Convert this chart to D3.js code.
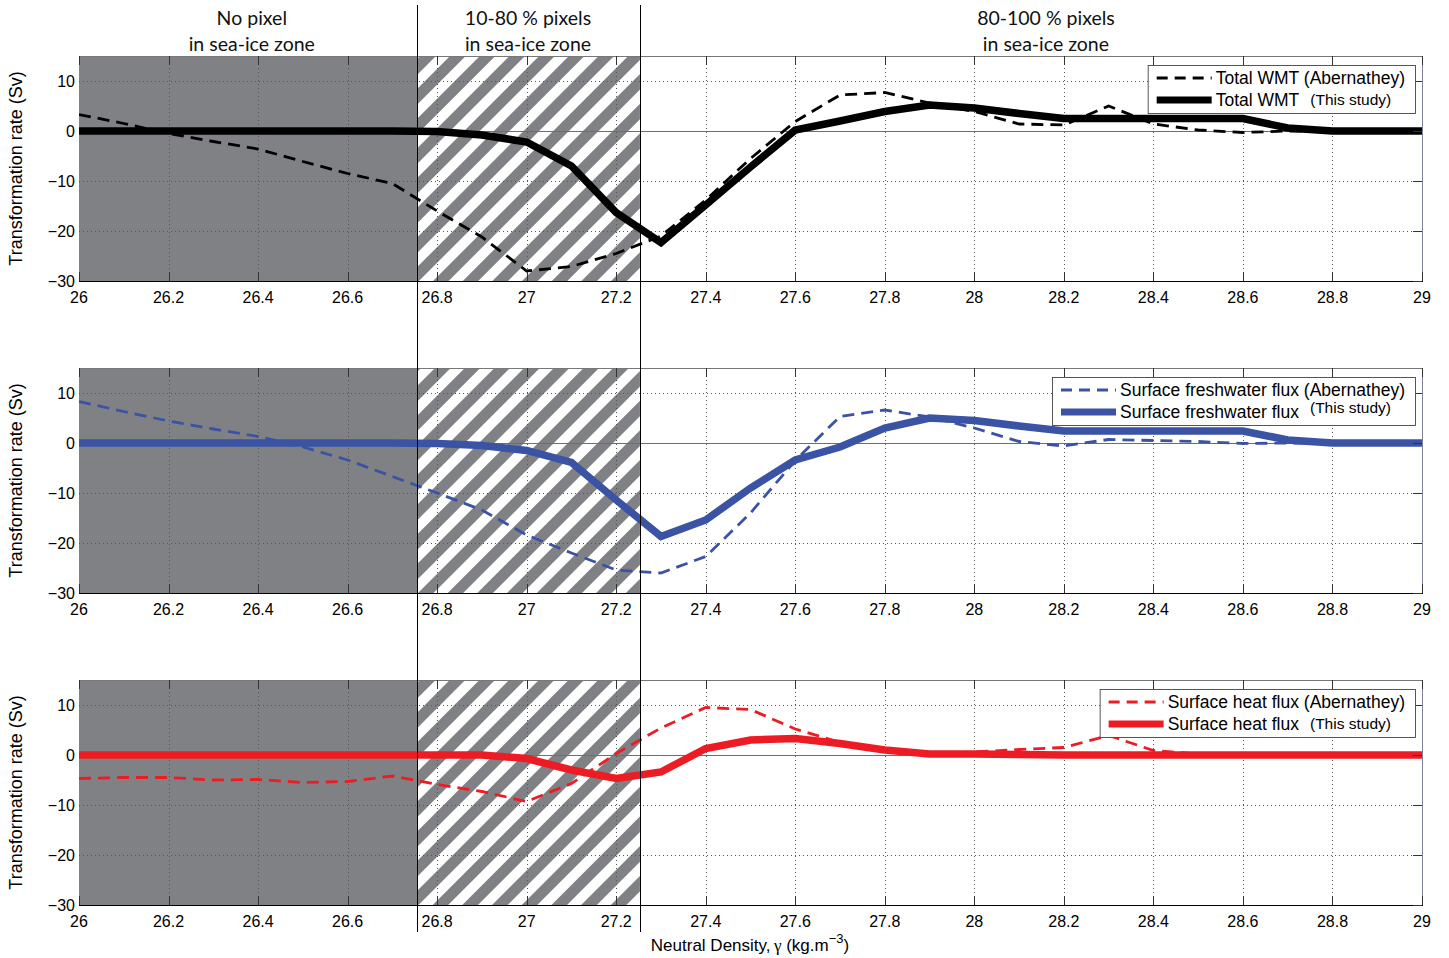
<!DOCTYPE html>
<html><head><meta charset="utf-8">
<script src="https://cdn.jsdelivr.net/npm/d3@7"></script>
<style>body{margin:0;background:#fff}svg{display:block}</style>
</head><body><svg id="c" width="1449" height="958"></svg>
<script>
// ---------------- data ----------------
const gamma = [26.0,26.1,26.2,26.3,26.4,26.5,26.6,26.7,26.8,26.9,27.0,27.1,27.2,27.3,27.4,27.5,27.6,27.7,27.8,27.9,28.0,28.1,28.2,28.3,28.4,28.5,28.6,28.7,28.8,28.9,29.0];
const wmtThisStudy   = [0,0,0,0,0,0,0,0,-0.1,-0.8,-2.2,-7,-16.3,-22.3,-14.8,-7.2,0.2,2,3.9,5.2,4.6,3.5,2.5,2.5,2.5,2.5,2.5,0.6,0,0,0];
const wmtAbernathey  = [3.3,1.5,-0.5,-2.1,-3.6,-6.1,-8.5,-10.5,-16,-21.2,-28,-27.1,-24.5,-21,-13.8,-5.5,1.9,7.2,7.7,5.6,3.9,1.4,1.2,5,1.4,0.2,-0.3,0,0,0,0];
const fwThisStudy    = [0,0,0,0,0,0,0,0,-0.1,-0.5,-1.5,-3.9,-11.4,-18.7,-15.4,-9,-3.4,-0.8,3,5,4.5,3.4,2.4,2.4,2.4,2.4,2.4,0.6,0,0,0];
const fwAbernathey   = [8.3,6.3,4.4,2.8,1.3,-0.8,-3.4,-6.7,-10,-13.4,-18.4,-22,-25.4,-26,-22.7,-14,-3.5,5.3,6.6,5.2,3,0.3,-0.6,0.7,0.5,0.3,-0.1,0,0,0,0];
const heatThisStudy  = [0,0,0,0,0,0,0,0,0,0,-0.7,-3,-4.7,-3.4,1.3,3,3.3,2.3,1,0.2,0.2,0.1,0,0,0,0,0,0,0,0,0];
const heatAbernathey = [-4.7,-4.5,-4.5,-5,-4.9,-5.5,-5.3,-4.2,-5.9,-7.3,-9.3,-5.7,0.3,5.4,9.5,9.1,5.2,2.5,1,0.3,0.6,1.1,1.5,3.9,0.9,0.2,0,0,0,0,0];

const xTickValues = [26,26.2,26.4,26.6,26.8,27,27.2,27.4,27.6,27.8,28,28.2,28.4,28.6,28.8,29];
const yTickValues = [10,0,-10,-20,-30];
const zoneEdges = [26, 26.755, 27.253, 29];
const zoneLabelGamma = [26.386, 27.003, 28.16];
const zoneLabels = [["No pixel","in sea-ice zone"],["10-80 % pixels","in sea-ice zone"],["80-100 % pixels","in sea-ice zone"]];
const seriesNames = ["Total WMT","Surface freshwater flux","Surface heat flux"];
const seriesColors = ["#000000","#3a53a4","#ed1c24"];
const yLabel = "Transformation rate (Sv)";

const panels = [
  {ab: wmtAbernathey, me: wmtThisStudy, name: seriesNames[0], color: seriesColors[0], studyDy: 0},
  {ab: fwAbernathey,  me: fwThisStudy,  name: seriesNames[1], color: seriesColors[1], studyDy: -4},
  {ab: heatAbernathey,me: heatThisStudy,name: seriesNames[2], color: seriesColors[2], studyDy: 0}
];

// ---------------- layout ----------------
const svg = d3.select("#c");
const FONT = "'Liberation Sans', Arial, Helvetica, sans-serif";
const X0 = 79, X1 = 1422, PH = 225;
const panelTops = [56, 368, 680];
const x = d3.scaleLinear().domain([26,29]).range([X0,X1]);

const defs = svg.append("defs");
const pat = defs.append("pattern").attr("id","hatch").attr("patternUnits","userSpaceOnUse")
  .attr("width",21).attr("height",21).attr("patternTransform","translate(417,0) rotate(45)");
pat.append("rect").attr("width",21).attr("height",21).attr("fill","#fff");
pat.append("rect").attr("x",0).attr("width",11).attr("height",21).attr("fill","#808184");

panels.forEach((p, i) => {
  const top = panelTops[i], bot = top + PH;
  const y = d3.scaleLinear().domain([-30,15]).range([bot, top]);
  const g = svg.append("g");
  const cid = "clip" + i;
  defs.append("clipPath").attr("id", cid).append("rect").attr("x",X0).attr("y",top).attr("width",X1-X0).attr("height",PH);

  // zone backgrounds
  g.append("rect").attr("x",x(zoneEdges[0])).attr("y",top).attr("width",x(zoneEdges[1])-x(zoneEdges[0])).attr("height",PH).attr("fill","#808184");
  g.append("rect").attr("x",x(zoneEdges[1])).attr("y",top).attr("width",x(zoneEdges[2])-x(zoneEdges[1])).attr("height",PH).attr("fill","url(#hatch)");

  // grid
  const grid = g.append("g").attr("stroke","#555").attr("stroke-width",1).attr("stroke-dasharray","1,3");
  grid.selectAll("line.v").data(xTickValues.slice(1,-1)).join("line")
    .attr("x1",d=>Math.round(x(d))+0.5).attr("x2",d=>Math.round(x(d))+0.5).attr("y1",top).attr("y2",bot);
  grid.selectAll("line.h").data(yTickValues.filter(v=>v!==0 && v!==-30)).join("line")
    .attr("x1",X0).attr("x2",X1).attr("y1",d=>Math.round(y(d))+0.5).attr("y2",d=>Math.round(y(d))+0.5);
  g.append("line").attr("x1",X0).attr("x2",X1).attr("y1",Math.round(y(0))+0.5).attr("y2",Math.round(y(0))+0.5)
    .attr("stroke","#6e6e6e").attr("stroke-width",1);

  // lines
  const line = d3.line().x((d,k)=>x(gamma[k])).y(d=>y(d));
  const lg = g.append("g").attr("clip-path",`url(#${cid})`);
  lg.append("path").datum(p.ab).attr("d",line).attr("fill","none").attr("stroke",p.color)
    .attr("stroke-width",2.8).attr("stroke-dasharray","12,7");
  lg.append("path").datum(p.me).attr("d",line).attr("fill","none").attr("stroke",p.color)
    .attr("stroke-width",7.5).attr("stroke-linejoin","miter");

  // axes frame
  g.append("line").attr("x1",X0).attr("x2",X1).attr("y1",top+0.5).attr("y2",top+0.5).attr("stroke","#777");
  g.append("line").attr("x1",X1+0.5).attr("x2",X1+0.5).attr("y1",top).attr("y2",bot).attr("stroke","#7d8296");
  g.append("line").attr("x1",X0).attr("x2",X1+1).attr("y1",bot+0.5).attr("y2",bot+0.5).attr("stroke","#000");

  // ticks (inside)
  const tk = g.append("g").attr("stroke","#333").attr("stroke-width",1);
  tk.selectAll("line.b").data(xTickValues).join("line")
    .attr("x1",d=>Math.round(x(d))+0.5).attr("x2",d=>Math.round(x(d))+0.5).attr("y1",bot).attr("y2",bot-9);
  tk.selectAll("line.t").data(xTickValues).join("line")
    .attr("x1",d=>Math.round(x(d))+0.5).attr("x2",d=>Math.round(x(d))+0.5).attr("y1",top).attr("y2",top+9);
  tk.selectAll("line.r").data(yTickValues).join("line")
    .attr("x1",X1).attr("x2",X1-9).attr("y1",d=>Math.round(y(d))+0.5).attr("y2",d=>Math.round(y(d))+0.5);

  // tick labels
  g.append("g").selectAll("text").data(xTickValues).join("text")
    .attr("x",d=>x(d)).attr("y",bot+22).attr("text-anchor","middle")
    .attr("font-family",FONT).attr("font-size",16).attr("fill","#000")
    .text(d=>String(+d.toFixed(1)));
  g.append("g").selectAll("text").data(yTickValues).join("text")
    .attr("x",X0-4).attr("y",d=>y(d)+6).attr("text-anchor","end")
    .attr("font-family",FONT).attr("font-size",16).attr("fill","#000")
    .text(d=>d3.format("d")(d));

  // y label
  g.append("text").attr("transform",`translate(22,${top+PH/2}) rotate(-90)`)
    .attr("text-anchor","middle").attr("font-family",FONT).attr("font-size",18).attr("fill","#000")
    .text(yLabel);

  // legend
  const lgd = g.append("g");
  const box = lgd.append("rect").attr("fill","#fff").attr("stroke","#444").attr("stroke-width",0.9);
  const r1 = top + 22, r2 = top + 44;
  const t1 = lgd.append("text").attr("y",r1+6).attr("font-family",FONT).attr("font-size",17.5).text(p.name + " (Abernathey)");
  const t2 = lgd.append("text").attr("y",r2+6).attr("font-family",FONT).attr("font-size",17.5).text(p.name);
  const t3 = lgd.append("text").attr("y",r2+5+p.studyDy).attr("font-family",FONT).attr("font-size",15.5).text("(This study)");
  const w1 = t1.node().getComputedTextLength();
  const w2 = t2.node().getComputedTextLength();
  const right = 1415;
  const left = right - (w1 + 78);
  box.attr("x",left+0.5).attr("y",top+9.5).attr("width",right-left).attr("height",48);
  t1.attr("x",left+68); t2.attr("x",left+68); t3.attr("x",left+68+w2+11);
  lgd.append("line").attr("x1",left+9).attr("x2",left+64).attr("y1",r1).attr("y2",r1)
    .attr("stroke",p.color).attr("stroke-width",2.8).attr("stroke-dasharray","11,7");
  lgd.append("line").attr("x1",left+9).attr("x2",left+64).attr("y1",r2).attr("y2",r2)
    .attr("stroke",p.color).attr("stroke-width",7);
});

// zone boundaries and headers
svg.append("g").selectAll("line").data(zoneEdges.slice(1,3)).join("line")
  .attr("x1",d=>Math.round(x(d))+0.5).attr("x2",d=>Math.round(x(d))+0.5).attr("y1",5).attr("y2",932)
  .attr("stroke","#000").attr("stroke-width",1);
zoneLabels.forEach((lbl,i)=>{
  lbl.forEach((s,j)=>{
    svg.append("text").attr("x",x(zoneLabelGamma[i])).attr("y",25+j*26).attr("text-anchor","middle")
      .attr("font-family","Lato, 'Open Sans', sans-serif").attr("font-size",19.5).attr("fill","#111").text(s);
  });
});

// x label
const xl = svg.append("text").attr("x",750).attr("y",951).attr("text-anchor","middle")
  .attr("font-family",FONT).attr("font-size",17).attr("fill","#000");
xl.append("tspan").text("Neutral Density,\u2009");
xl.append("tspan").attr("font-family","'Liberation Serif', serif").text("γ");
xl.append("tspan").text(" (kg.m");
xl.append("tspan").attr("dy",-8).attr("font-size",13).text("−3");
xl.append("tspan").attr("dy",8).text(")");
</script></body></html>
